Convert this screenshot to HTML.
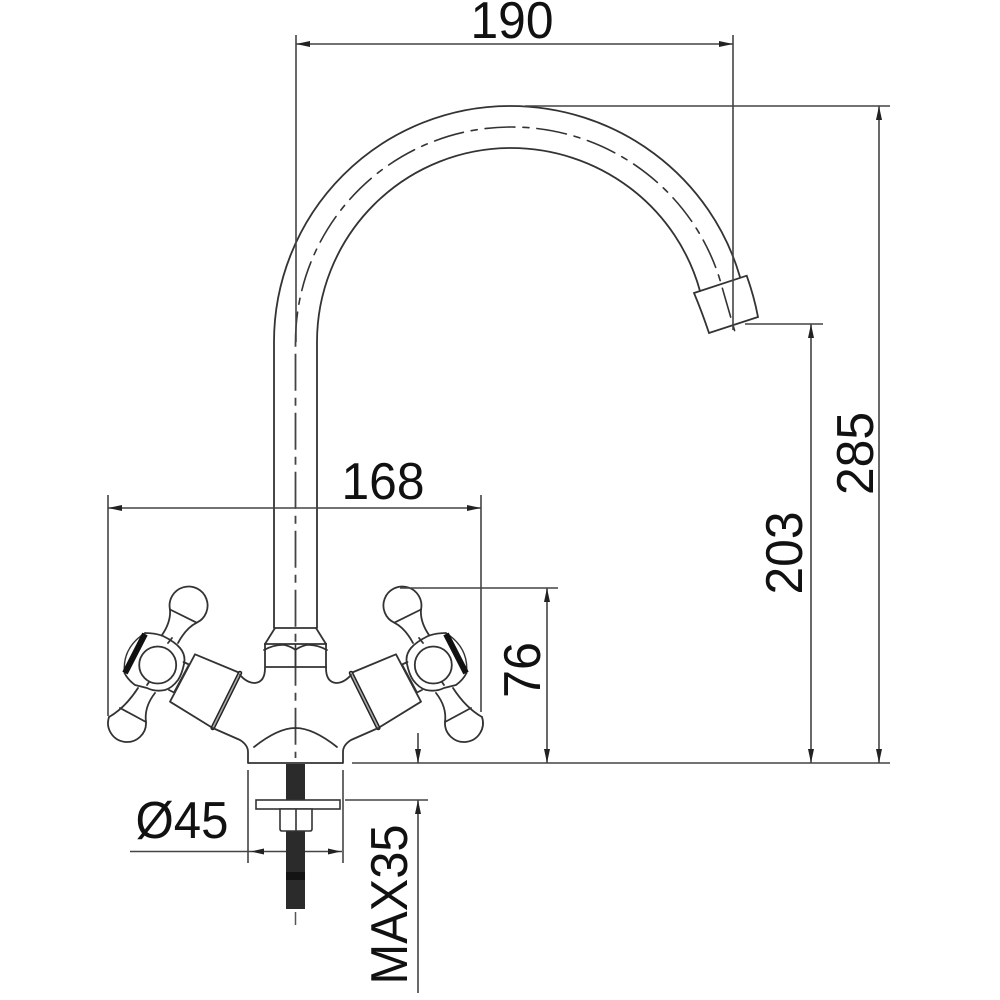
<!DOCTYPE html>
<html><head><meta charset="utf-8">
<style>
html,body{margin:0;padding:0;background:#fff}
svg{display:block}
text{font-family:"Liberation Sans",sans-serif;font-size:52px;fill:#111}
</style></head>
<body>
<svg width="1000" height="1000" viewBox="0 0 1000 1000" xmlns="http://www.w3.org/2000/svg">
<defs>
<g id="half" fill="none" stroke="#333" stroke-width="1.8" stroke-linejoin="round" stroke-linecap="round">
  <!-- handle -->
  <path d="M170 609.5 A19 19 0 1 1 196.7 622.7 Q186 628 178 643"/>
  <path d="M170 609.5 Q171 622 162 635"/>
  <path d="M170 609.5 L196.7 622.7"/>
  <path d="M109 717 A19 19 0 1 0 146 722 Q144 707 155 693"/>
  <path d="M109 717 Q125 708 138 688"/>
  <path d="M120 708 L146 722"/>
  <path d="M145 633 Q155 633 163 636 Q175 642 180 648 Q186 655 184 664 Q182 674 178 680 Q172 688 165 690 Q155 692 147 688 L135 685 Q128 680 124.5 673"/>
  <circle cx="157.7" cy="665" r="18.5"/>
  <path d="M168 643 L172 638 M147 685 L149 682"/>
  <path d="M145 633 Q122 648 124.5 673" stroke-width="1.4"/>
  <path d="M145 634 L125 673" stroke="#111" stroke-width="6" stroke-linecap="butt"/>
  <!-- spacer -->
  <path d="M183.5 662 L189 664.5 L174 692.5 L169 690"/>
  <!-- cylinder -->
  <path d="M195 654.3 L240 673 L212.7 728 L170 701.7 Z"/>
  <path d="M240 673 L212.7 728" stroke="#222" stroke-width="4.5"/>
  <path d="M240 673 L212.7 728" stroke="#aaa" stroke-width="1.6"/>
  <!-- body -->
  <path d="M212.7 728 L240 740 Q248 745 248 752 V763"/>
  <path d="M254 747 Q278 728 295.5 728"/>
  <path d="M240 675 Q247 683 255 683 Q265 682 265 668 V644 L275 628"/>
  <path d="M264 650 Q275 644 285 645 Q292 647 295.5 650"/>
</g>
</defs>

<!-- spout -->
<g fill="none" stroke="#333" stroke-width="1.8" stroke-linecap="round">
  <path d="M274 628 V342 A236 236 0 0 1 510 106 A239 236 0 0 1 740 277"/>
  <path d="M317 628 V342 A194 194 0 0 1 511 148 A196 194 0 0 1 700 291"/>
  <path d="M694 293 L746.7 275.7 Q754 296 758 317 L709 333 Q702 312 694 293 Z"/>
  <path d="M295.5 342 A215.5 215 0 0 1 511 127 A218 215 0 0 1 722 287 L735 332" stroke-dasharray="30 8 6 8" stroke-width="1.6"/>
  <path d="M295.5 342 V758" stroke-dasharray="37 7 8 7" stroke-dashoffset="47.3" stroke-width="1.8" stroke-linecap="butt" stroke="#444"/>
  <path d="M295.5 645 V667" stroke="#333" stroke-width="1.6"/>
</g>

<use href="#half"/>
<use href="#half" transform="translate(591,0) scale(-1,1)"/>
<g fill="none" stroke="#333" stroke-width="1.8">
  <path d="M275 628 H317"/>
  <path d="M264 644 H327"/>
  <path d="M265 667 H327"/>
  <path d="M248 763 H343"/>
</g>

<!-- bolt -->
<rect x="286" y="764" width="19" height="145" fill="#2b2b2b"/>
<rect x="286" y="872" width="19" height="8" fill="#141414"/>
<rect x="256" y="800" width="84" height="9" fill="#fff" stroke="#333" stroke-width="1.6"/>
<path d="M280 809 H312 V829 Q312 831 310 831 H282 Q280 831 280 829 Z M296 809 V831" fill="#fff" stroke="#333" stroke-width="1.6"/>
<path d="M295.5 912 V925" stroke="#555" stroke-width="1.5"/>

<!-- dimension lines -->
<g fill="none" stroke="#444" stroke-width="1.6">
  <path d="M296 35 V342"/>
  <path d="M733 35 V330"/>
  <path d="M296 44 H733"/>
  <path d="M108 495 V716"/>
  <path d="M481 495 V712"/>
  <path d="M108 508 H481"/>
  <path d="M525 106 H890"/>
  <path d="M352 763 H890"/>
  <path d="M879 106 V763"/>
  <path d="M745 324 H823"/>
  <path d="M811 324 V763"/>
  <path d="M400 588 H558"/>
  <path d="M547 588 V763"/>
  <path d="M130 851.5 H286 M305 851.5 H342"/>
  <path d="M248 770 V863"/>
  <path d="M343 770 V863"/>
  <path d="M345 800 H428"/>
  <path d="M418 733 V763 M418 800 V993"/>
</g>

<!-- arrowheads -->
<g fill="#222" stroke="none">
  <path d="M296 44 l14 -3 v6 z"/>
  <path d="M733 44 l-14 -3 v6 z"/>
  <path d="M108 508 l14 -3 v6 z"/>
  <path d="M481 508 l-14 -3 v6 z"/>
  <path d="M879 106 l-3 14 h6 z"/>
  <path d="M879 763 l-3 -14 h6 z"/>
  <path d="M811 324 l-3 14 h6 z"/>
  <path d="M811 763 l-3 -14 h6 z"/>
  <path d="M547 588 l-3 14 h6 z"/>
  <path d="M547 763 l-3 -14 h6 z"/>
  <path d="M251 851.5 l13 -3 v6 z"/>
  <path d="M341 851.5 l-13 -3 v6 z"/>
  <path d="M418 763 l-3 -14 h6 z"/>
  <path d="M418 800 l-3 14 h6 z"/>
</g>

<!-- labels -->
<text x="512" y="38" text-anchor="middle" textLength="83" lengthAdjust="spacingAndGlyphs">190</text>
<text x="383" y="499" text-anchor="middle" textLength="83" lengthAdjust="spacingAndGlyphs">168</text>
<text x="182" y="838" text-anchor="middle" textLength="93" lengthAdjust="spacingAndGlyphs">Ø45</text>
<text transform="translate(873,453.5) rotate(-90)" text-anchor="middle" textLength="83" lengthAdjust="spacingAndGlyphs">285</text>
<text transform="translate(802,553) rotate(-90)" text-anchor="middle" textLength="83" lengthAdjust="spacingAndGlyphs">203</text>
<text transform="translate(540,670) rotate(-90)" text-anchor="middle" textLength="56" lengthAdjust="spacingAndGlyphs">76</text>
<text transform="translate(407,904.5) rotate(-90)" text-anchor="middle" textLength="160" lengthAdjust="spacingAndGlyphs">MAX35</text>
</svg>
</body></html>
